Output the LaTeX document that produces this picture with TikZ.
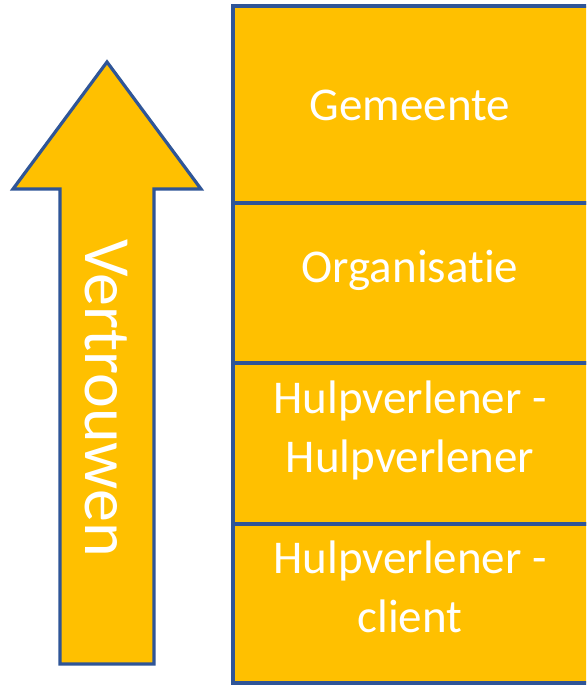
\documentclass[tikz,border=0pt]{standalone}
\usepackage{fontspec}
\setmainfont{Carlito}[Ligatures={NoCommon}]
\definecolor{gold}{HTML}{FFC000}
\definecolor{edge}{HTML}{2F5597}
\tikzset{
  shapefill/.style={fill=gold, draw=edge, line width=3.2pt, line join=miter},
  lbl/.style={text=white, font=\fontsize{47}{59}\selectfont, align=center, inner sep=0pt, anchor=base},
  vlbl/.style={text=white, font=\fontsize{66}{72}\selectfont, inner sep=0pt, anchor=base, rotate=-90}
}
\begin{document}
\begin{tikzpicture}[x=1pt,y=-1pt]
\clip (0,0) rectangle (586,687);
\fill[white] (0,0) rectangle (586,687);
% arrow
\coordinate (tip) at (107,62);
\draw[shapefill] (tip) -- (201,189) -- (154,189) -- (154,664) -- (60,664) -- (60,189) -- (13,189) -- cycle;
\node[vlbl] (vt) at (85,398) {Vertrouwen};
% boxes
\draw[shapefill] (233,6) rectangle (600,203) coordinate (b1);
\draw[shapefill] (233,203) rectangle (600,363) coordinate (b2);
\draw[shapefill] (233,363) rectangle (600,524) coordinate (b3);
\draw[shapefill] (233,524) rectangle (600,683) coordinate (b4);
\node[lbl] (gem) at (410,121) {Gemeente};
\node[lbl] (org) at (410,282) {Organisatie};
\node[lbl] (hh) at (410,472) {Hulpverlener -\\Hulpverlener};
\node[lbl] (hc) at (410,632) {Hulpverlener -\\client};
\end{tikzpicture}
\end{document}
